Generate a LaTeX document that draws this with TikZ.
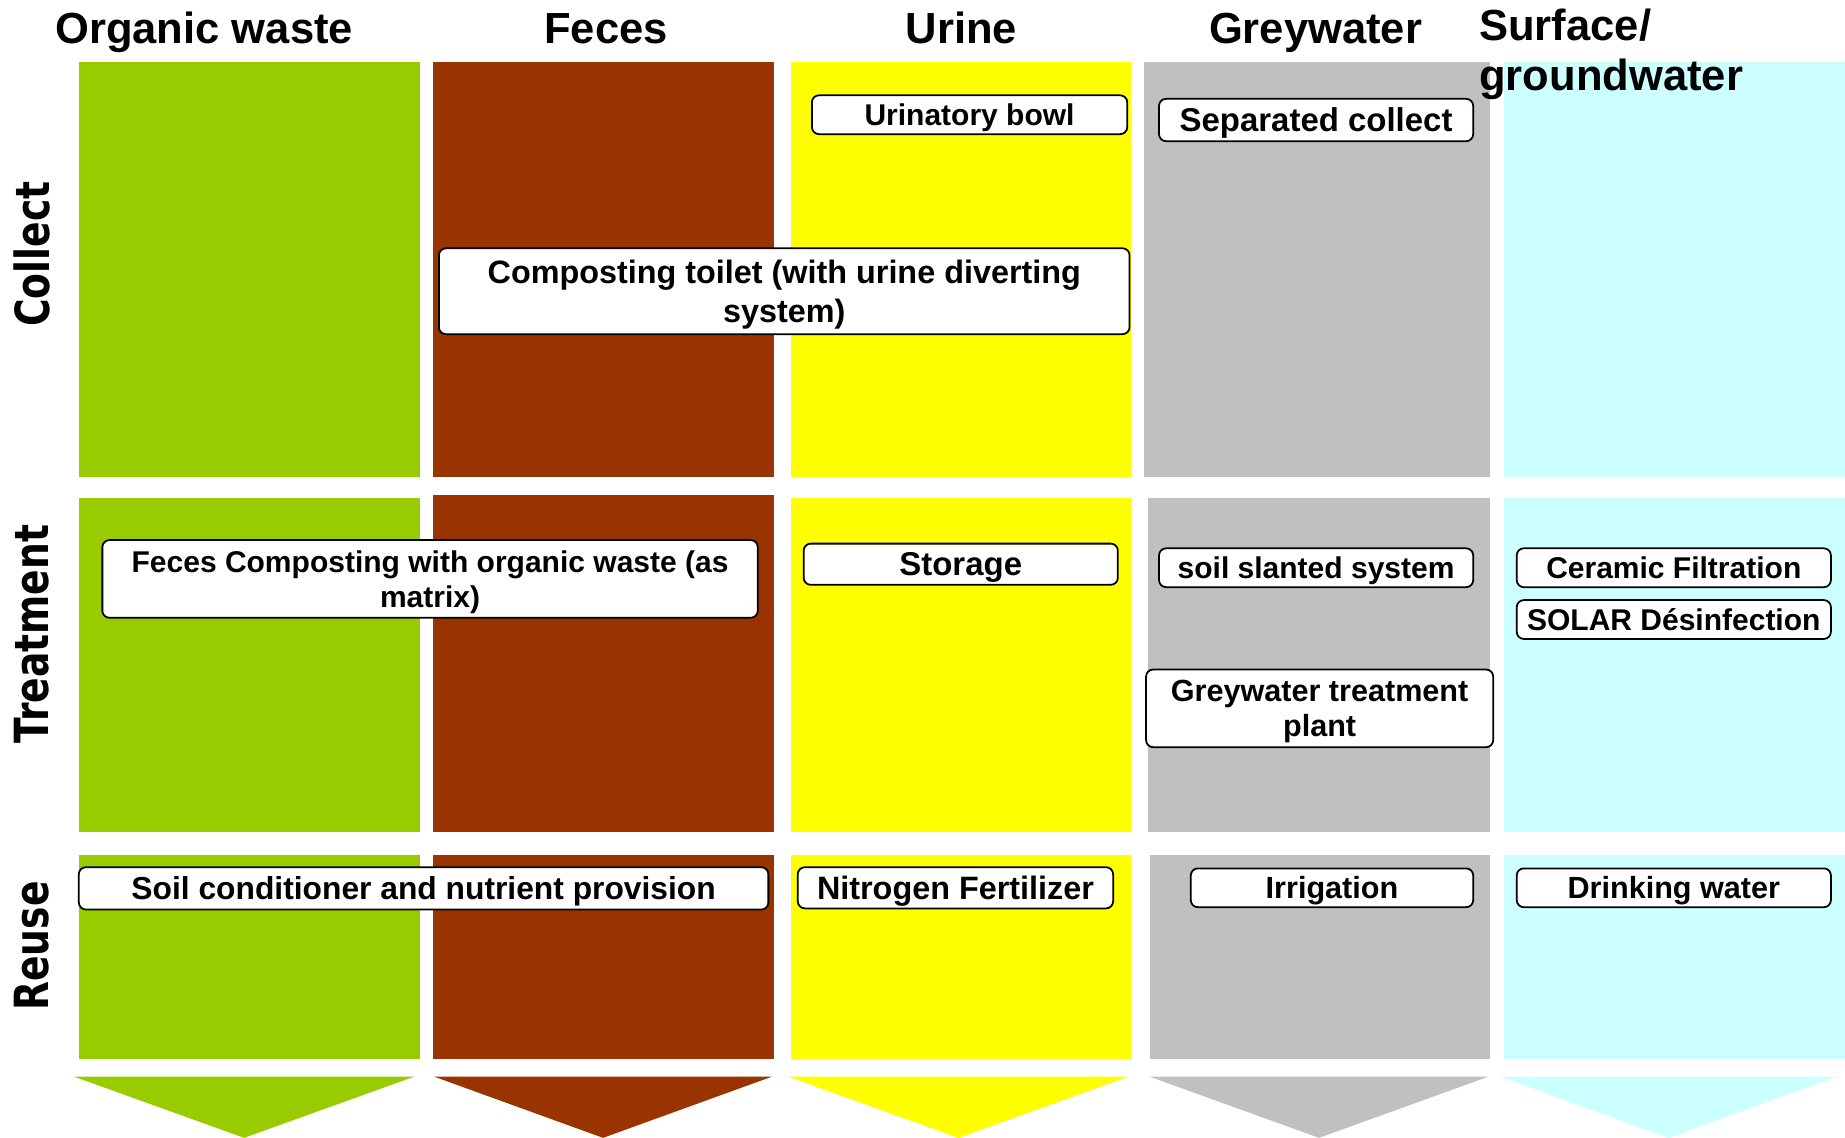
\documentclass[tikz,border=0pt]{standalone}
\usepackage{fontspec}
\setmainfont{Liberation Sans}
\newfontfamily\rowfont{DejaVu Sans}
\usepackage{graphicx}
\definecolor{cgreen}{HTML}{99CC00}
\definecolor{cbrown}{HTML}{993300}
\definecolor{cyellow}{HTML}{FFFF00}
\definecolor{cgrey}{HTML}{C0C0C0}
\definecolor{ccyan}{HTML}{CCFFFF}
\tikzset{
  box/.style={draw=black, line width=1.5pt, fill=white, rounded corners=6pt, inner sep=0pt, align=center, text depth=0pt},
  fs/.style={font=\fontsize{#1}{#1}\selectfont\bfseries},
  head/.style={anchor=base, inner sep=0pt, font=\fontsize{37}{43}\selectfont\bfseries},
  rowlab/.style={rotate=90, inner sep=0pt, font=\rowfont\fontsize{40}{40}\selectfont\bfseries},
}
\begin{document}
\begin{tikzpicture}[x=1pt,y=-1pt]
\useasboundingbox (0,0) rectangle (1568,967);
% columns
\fill[cgreen] (67,53) rectangle (357,405);
\fill[cgreen] (67,423) rectangle (357,707);
\fill[cgreen] (67,727) rectangle (357,900);
\fill[cbrown] (368,53) rectangle (658,405);
\fill[cbrown] (368,421) rectangle (658,707);
\fill[cbrown] (368,727) rectangle (658,900);
\fill[cyellow] (672,53) rectangle (961,405);
\fill[cyellow] (672,423) rectangle (961,707);
\fill[cyellow] (672,727) rectangle (961,900);
\fill[cgrey] (972,53) rectangle (1266,405);
\fill[cgrey] (976,423) rectangle (1266,707);
\fill[cgrey] (977,727) rectangle (1266,900);
\fill[ccyan] (1278,53) rectangle (1568,405);
\fill[ccyan] (1278,423) rectangle (1568,707);
\fill[ccyan] (1278,727) rectangle (1568,900);
% arrows
\fill[cgreen] (63,915) -- (352,915) -- (207.5,967) -- cycle;
\fill[cbrown] (369,915) -- (656,915) -- (512.5,967) -- cycle;
\fill[cyellow] (670,915) -- (959,915) -- (814.5,967) -- cycle;
\fill[cgrey] (977,915) -- (1265,915) -- (1121,967) -- cycle;
\fill[ccyan] (1275,915) -- (1561,915) -- (1418,967) -- cycle;
% headings
\node[head] (h1) at (173.5,37) {Organic waste};
\node[head] (h2) at (515,37) {Feces};
\node[head] (h3) at (817,37) {Urine};
\node[head] (h4) at (1118,37) {Greywater};
\node[head, anchor=base west] (h5a) at (1257,34) {Surface/};
\node[head, anchor=base west] (h5b) at (1257,77) {groundwater};
% row labels
\node[rowlab] (rcollect) at (27,216) {\scalebox{0.8}[1]{Collect}};
\node[rowlab] (rtreat) at (27,539) {\scalebox{0.8}[1]{Treatment}};
\node[rowlab] (rreuse) at (27,804) {\scalebox{0.8}[1]{Reuse}};
% boxes
\node[box, fs=25.5, minimum width=268, minimum height=33] (urbowl) at (824,97.5) {Urinatory bowl};
\node[box, fs=28, minimum width=267, minimum height=36] (sepcol) at (1118.5,102) {Separated collect};
\node[box, font=\fontsize{27.5}{33}\selectfont\bfseries, minimum width=587, minimum height=73] (comptoilet) at (666.5,247.5) {Composting toilet (with urine diverting\\system)};
\node[box, font=\fontsize{25.5}{30}\selectfont\bfseries, minimum width=557, minimum height=66] (fecescomp) at (365.5,492) {Feces Composting with organic waste (as\\matrix)};
\node[box, fs=28, minimum width=267, minimum height=35] (storage) at (816.5,479.5) {Storage};
\node[box, fs=25.5, minimum width=267, minimum height=33] (soil) at (1118.5,482.5) {soil slanted system};
\node[box, fs=25.5, minimum width=267, minimum height=33] (ceramic) at (1422.5,482.5) {Ceramic Filtration};
\node[box, fs=25.5, minimum width=267, minimum height=33] (solar) at (1422.5,526.5) {SOLAR Désinfection};
\node[box, font=\fontsize{26}{30}\selectfont\bfseries, minimum width=295, minimum height=66] (gwtp) at (1121.5,602) {Greywater treatment\\plant};
\node[box, fs=27, minimum width=586, minimum height=36] (soilcond) at (360,755) {Soil conditioner and nutrient provision};
\node[box, fs=27.5, minimum width=268, minimum height=35] (nitrogen) at (812,754.5) {Nitrogen Fertilizer};
\node[box, fs=26, minimum width=240, minimum height=33] (irrig) at (1132,754.5) {Irrigation};
\node[box, fs=26, minimum width=267, minimum height=33] (drink) at (1422.5,754.5) {Drinking water};
\end{tikzpicture}
\end{document}
